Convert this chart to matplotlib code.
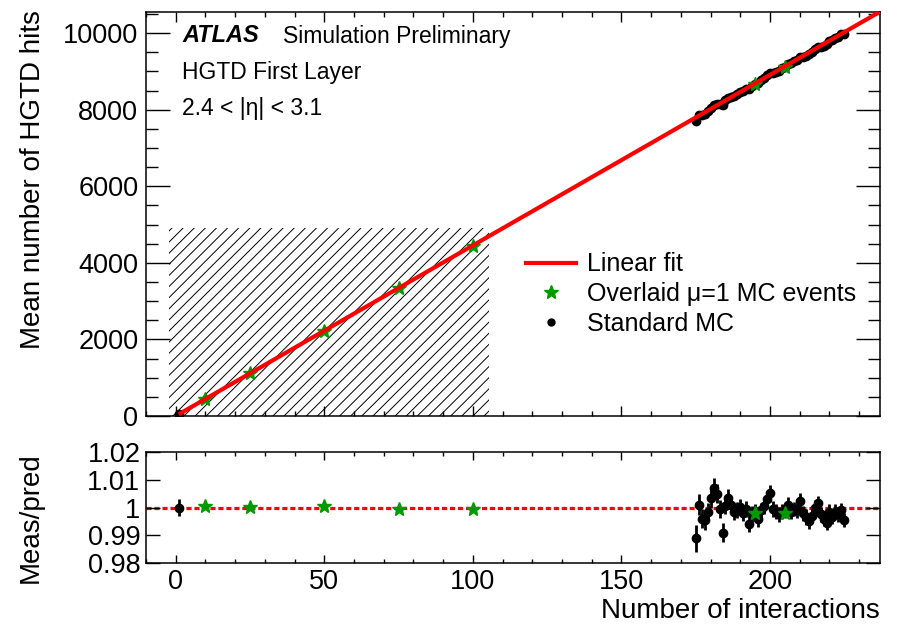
import numpy as np
import matplotlib
matplotlib.use("Agg")
import matplotlib.pyplot as plt
from matplotlib.lines import Line2D
from matplotlib.patches import Rectangle
from matplotlib.ticker import MultipleLocator, FixedLocator

plt.rcParams['font.family'] = ['Liberation Sans', 'DejaVu Sans']
plt.rcParams['hatch.linewidth'] = 0.7

# ---- data -------------------------------------------------------------
# linear fit: hits = FIT_A + FIT_B * mu
FIT_A = 0.0
FIT_B = 44.55

# standard MC samples
std_mu = [1] + list(range(175, 226))
std_hits = [44.55,
            7710, 7849, 7854, 7894, 7962, 8047, 8120, 8149, 8149, 8123,
            8246, 8315, 8339, 8363, 8412, 8465, 8492, 8549, 8547, 8621,
            8674, 8697, 8768, 8825, 8892, 8955, 8950, 8986, 9021, 9075,
            9124, 9186, 9208, 9262, 9302, 9379, 9381, 9412, 9442, 9505,
            9578, 9637, 9643, 9673, 9703, 9786, 9811, 9875, 9910, 9969,
            9979]
std_err = [0.14,
           38, 30, 28, 27, 26, 30, 28, 27, 26, 27,
           25, 27, 26, 25, 25, 24, 25, 24, 26, 25,
           24, 25, 24, 25, 26, 27, 25, 24, 25, 24,
           25, 26, 25, 24, 25, 27, 25, 26, 25, 24,
           25, 27, 26, 25, 27, 26, 25, 27, 26, 25,
           25]

# overlaid mu=1 MC events
ovl_mu = [10, 25, 50, 75, 100, 195, 205]
ovl_hits = [445.7, 1114.0, 2228.6, 3339.9, 4451.9, 8669.9, 9114.5]

# region covered by the overlay samples
ovl_box_x = (-2.3, 105.3)
ovl_box_ymax = 4900

XLIM = (-10, 237)
YLIM_TOP = (0, 10550)
YLIM_RATIO = (0.98, 1.02)
ratio_ticks = [0.98, 0.99, 1.0, 1.01, 1.02]
ratio_ticklabels = ["0.98", "0.99", "1", "1.01", "1.02"]

GREEN = "#009a00"
RED = "#ff0000"


def pred(x):
    return FIT_A + FIT_B * np.asarray(x, dtype=float)


std_mu_a = np.array(std_mu, dtype=float)
std_hits_a = np.array(std_hits)
std_err_a = np.array(std_err)
ovl_mu_a = np.array(ovl_mu, dtype=float)
ovl_hits_a = np.array(ovl_hits)

# ---- figure -----------------------------------------------------------
W, H = 897, 632
fig = plt.figure(figsize=(W / 100, H / 100), dpi=100)


def frac(l, t, r, b):
    return [l / W, 1 - b / H, (r - l) / W, (b - t) / H]


ax1 = fig.add_axes(frac(146, 12, 880, 416))
ax2 = fig.add_axes(frac(146, 452, 880, 563))

FS_TICK = 19.5

# upper panel
ax1.add_patch(Rectangle((ovl_box_x[0], 0), ovl_box_x[1] - ovl_box_x[0], ovl_box_ymax,
                        facecolor="none", edgecolor="black", linewidth=0,
                        hatch="///", zorder=1))
ax1.errorbar(std_mu_a, std_hits_a, yerr=std_err_a, fmt="o", color="black",
             ms=6, elinewidth=1.5, capsize=0, zorder=3)
ax1.plot(ovl_mu_a, ovl_hits_a, "*", color=GREEN, ms=10, mec=GREEN, zorder=4)
fit_x = np.array([std_mu_a.min(), XLIM[1]])
ax1.plot(fit_x, pred(fit_x), color=RED, lw=3, zorder=5, solid_capstyle="butt")

ax1.set_xlim(*XLIM)
ax1.set_ylim(*YLIM_TOP)
ax1.xaxis.set_major_locator(MultipleLocator(50))
ax1.xaxis.set_minor_locator(MultipleLocator(10))
ax1.yaxis.set_major_locator(MultipleLocator(2000))
ax1.yaxis.set_minor_locator(MultipleLocator(500))
ax1.tick_params(axis="both", which="both", direction="in", top=True, right=True,
                width=1.0, labelsize=FS_TICK)
ax1.tick_params(axis="x", which="major", length=7, labelbottom=False)
ax1.tick_params(axis="x", which="minor", length=3.6)
ax1.tick_params(axis="y", which="major", length=17, pad=5.5)
ax1.tick_params(axis="y", which="minor", length=8.6)
for s in ax1.spines.values():
    s.set_linewidth(1.1)

# labels inside upper panel
fig.text(182 / W, 1 - 36 / H, "ATLAS", fontsize=17, fontweight="bold",
         fontstyle="italic", va="center", ha="left")
fig.text(283 / W, 1 - 36 / H, "Simulation Preliminary", fontsize=16.5,
         va="center", ha="left")
fig.text(182 / W, 1 - 72 / H, "HGTD First Layer", fontsize=16.5,
         va="center", ha="left")
fig.text(182 / W, 1 - 108 / H, "2.4 < |η| < 3.1", fontsize=16.5,
         va="center", ha="left")

handles = [Line2D([], [], color=RED, lw=3),
           Line2D([], [], ls="none", marker="*", color=GREEN, ms=10),
           Line2D([], [], ls="none", marker="o", color="black", ms=5)]
labels = ["Linear fit", "Overlaid μ=1 MC events", "Standard MC"]
ax1.legend(handles, labels, loc="upper left", bbox_to_anchor=(0.518, 0.405),
           frameon=False, fontsize=18, handlelength=2.0, handletextpad=0.45,
           labelspacing=0.23, borderpad=0, borderaxespad=0)

# ratio panel
ax2.axhline(1.0, color=RED, lw=2.3, dashes=(1.6, 0.9), zorder=1)
std_ratio = std_hits_a / pred(std_mu_a)
std_ratio_err = std_err_a / pred(std_mu_a)
ax2.errorbar(std_mu_a, std_ratio, yerr=std_ratio_err, fmt="o", color="black",
             ms=6, elinewidth=2.0, capsize=0, zorder=3)
ax2.plot(ovl_mu_a, ovl_hits_a / pred(ovl_mu_a), "*", color=GREEN, ms=10.5,
         mec=GREEN, zorder=4)

ax2.set_xlim(*XLIM)
ax2.set_ylim(*YLIM_RATIO)
ax2.xaxis.set_major_locator(MultipleLocator(50))
ax2.xaxis.set_minor_locator(MultipleLocator(10))
ax2.yaxis.set_major_locator(FixedLocator(ratio_ticks))
ax2.set_yticklabels(ratio_ticklabels)
ax2.tick_params(axis="both", which="both", direction="in", top=True, right=True,
                width=1.0, labelsize=FS_TICK)
ax2.tick_params(axis="x", which="major", length=6, pad=4)
ax2.tick_params(axis="x", which="minor", length=2.6)
ax2.tick_params(axis="y", which="major", length=10, pad=4)
for s in ax2.spines.values():
    s.set_linewidth(1.1)

# axis titles
fig.text(33 / W, 1 - 10 / H, "Mean number of HGTD hits", rotation=90,
         fontsize=20, ha="center", va="top")
fig.text(31 / W, 1 - 452 / H, "Meas/pred", rotation=90,
         fontsize=20, ha="center", va="top")
fig.text(880 / W, 1 - 618 / H, "Number of interactions", fontsize=20,
         ha="right", va="baseline")

fig.savefig("out.png", dpi=100)
